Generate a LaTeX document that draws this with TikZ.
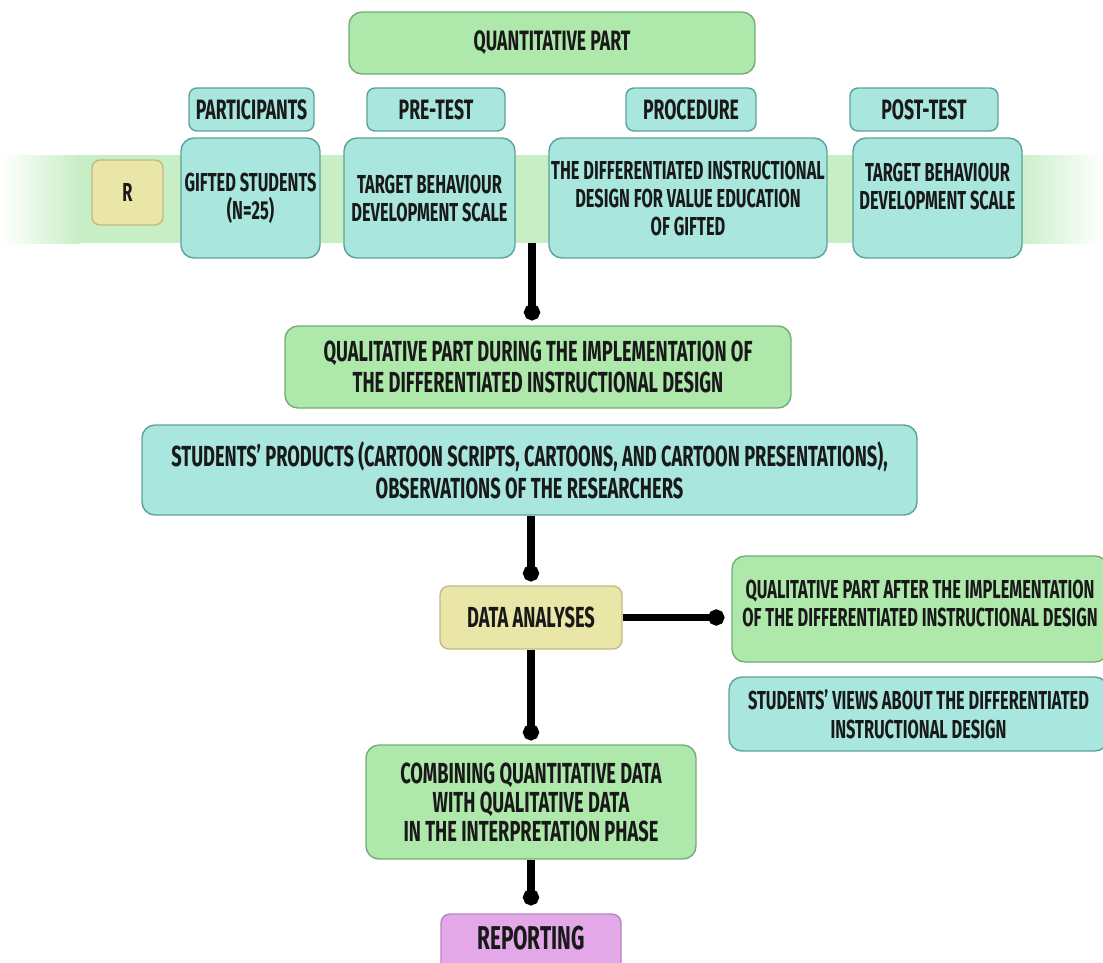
\documentclass[tikz,border=0pt]{standalone}
\usepackage{fontspec}
\setmainfont{Fira Sans}[FakeStretch=0.63]
\usetikzlibrary{arrows.meta}
\definecolor{bandc}{RGB}{200,238,198}
\definecolor{gfill}{RGB}{174,232,170}
\definecolor{gline}{RGB}{115,172,118}
\definecolor{cfill}{RGB}{168,230,222}
\definecolor{cline}{RGB}{92,162,152}
\definecolor{yfill}{RGB}{234,230,168}
\definecolor{yline}{RGB}{192,186,132}
\definecolor{pfill}{RGB}{226,168,232}
\definecolor{pline}{RGB}{182,132,190}
\definecolor{txt}{RGB}{25,25,25}
\tikzset{
  box/.style={draw, line width=1.4pt, rounded corners=13pt, inner sep=0pt, align=center,
    text=txt, font=\fontsize{26}{28}\selectfont\bfseries},
  greenbox/.style={box, fill=gfill, draw=gline},
  cyanbox/.style={box, fill=cfill, draw=cline},
  yellowbox/.style={box, fill=yfill, draw=yline},
  pinkbox/.style={box, fill=pfill, draw=pline},
  hdr/.style={cyanbox, rounded corners=8pt, minimum height=43pt, font=\fontsize{28}{30}\selectfont\bfseries},
  midfont/.style={font=\fontsize{29}{31}\selectfont\bfseries},
  conn/.style={line width=7.5pt, -{Circle[length=16pt,width=16pt]}}
}
\begin{document}
\begin{tikzpicture}[x=1pt,y=-1pt]
\useasboundingbox (0,0) rectangle (1103,962);
\clip (0,0) rectangle (1103,962);
% band
\shade[left color=white, right color=bandc] (0,155) rectangle (80,243);
\fill[bandc] (79.5,155) rectangle (1015.5,243);
\shade[left color=bandc, right color=white] (1015,155) rectangle (1103,243);
\coordinate (bandbottom) at (532,243);
% top
\node[greenbox, minimum width=406pt, minimum height=62pt, font=\fontsize{28}{30}\selectfont\bfseries] (quant) at (552,43) {QUANTITATIVE PART};
\node[hdr, minimum width=125pt] (part) at (251.5,109.5) {PARTICIPANTS};
\node[hdr, minimum width=138pt] (pre) at (436,109.5) {PRE-TEST};
\node[hdr, minimum width=130pt] (proc) at (691,109.5) {PROCEDURE};
\node[hdr, minimum width=148pt] (post) at (924,109.5) {POST-TEST};
% band row
\node[yellowbox, rounded corners=8pt, minimum width=71pt, minimum height=65pt] (r) at (127.5,192.5) {R};
\node[cyanbox, minimum width=139pt, minimum height=120pt] (gifted) at (250.5,198) {GIFTED STUDENTS\\(N=25)};
\node[cyanbox, minimum width=171pt, minimum height=120pt] (pretgt) at (429.5,198) {TARGET BEHAVIOUR\\DEVELOPMENT SCALE};
\node[cyanbox, minimum width=278pt, minimum height=120pt] (procc) at (688,198) {THE DIFFERENTIATED INSTRUCTIONAL\\DESIGN FOR VALUE EDUCATION\\OF GIFTED};
\node[cyanbox, minimum width=169pt, minimum height=120pt, text depth=24pt] (postc) at (937.5,198) {TARGET BEHAVIOUR\\DEVELOPMENT SCALE};
% middle
\node[greenbox, midfont, minimum width=506pt, minimum height=82pt] (qualdur) at (538,367) {QUALITATIVE PART DURING THE IMPLEMENTATION OF\\THE DIFFERENTIATED INSTRUCTIONAL DESIGN};
\node[cyanbox, minimum width=775pt, minimum height=90pt, font=\fontsize{29}{32}\selectfont\bfseries] (prod) at (529.5,470) {STUDENTS’ PRODUCTS (CARTOON SCRIPTS, CARTOONS, AND CARTOON PRESENTATIONS),\\OBSERVATIONS OF THE RESEARCHERS};
\node[yellowbox, midfont, rounded corners=9pt, minimum width=182pt, minimum height=63pt] (data) at (531,617.5) {DATA ANALYSES};
\node[greenbox, minimum width=376pt, minimum height=106pt, text depth=11pt] (qualaft) at (920,609) {QUALITATIVE PART AFTER THE IMPLEMENTATION\\OF THE DIFFERENTIATED INSTRUCTIONAL DESIGN};
\node[cyanbox, minimum width=379pt, minimum height=74pt, font=\fontsize{26}{29}\selectfont\bfseries] (views) at (918.5,714) {STUDENTS’ VIEWS ABOUT THE DIFFERENTIATED\\INSTRUCTIONAL DESIGN};
\node[greenbox, minimum width=330pt, minimum height=114pt, font=\fontsize{29}{29}\selectfont\bfseries] (comb) at (531,802) {COMBINING QUANTITATIVE DATA\\WITH QUALITATIVE DATA\\IN THE INTERPRETATION PHASE};
\node[pinkbox, rounded corners=9pt, minimum width=180pt, minimum height=61pt, text depth=14pt, font=\fontsize{33}{33}\selectfont\bfseries] (rep) at (531,944.5) {REPORTING};
% connectors
\draw[conn, shorten >=5pt] (bandbottom) -- (bandbottom |- qualdur.north);
\draw[conn, shorten >=4pt] (prod.south -| data.north) -- (data.north);
\draw[conn, shorten >=7pt] (data.east) -- (data.east -| qualaft.west);
\draw[conn, shorten >=4pt] (data.south) -- (data.south |- comb.north);
\draw[conn, shorten >=8pt] (comb.south) -- (comb.south |- rep.north);
\end{tikzpicture}
\end{document}
